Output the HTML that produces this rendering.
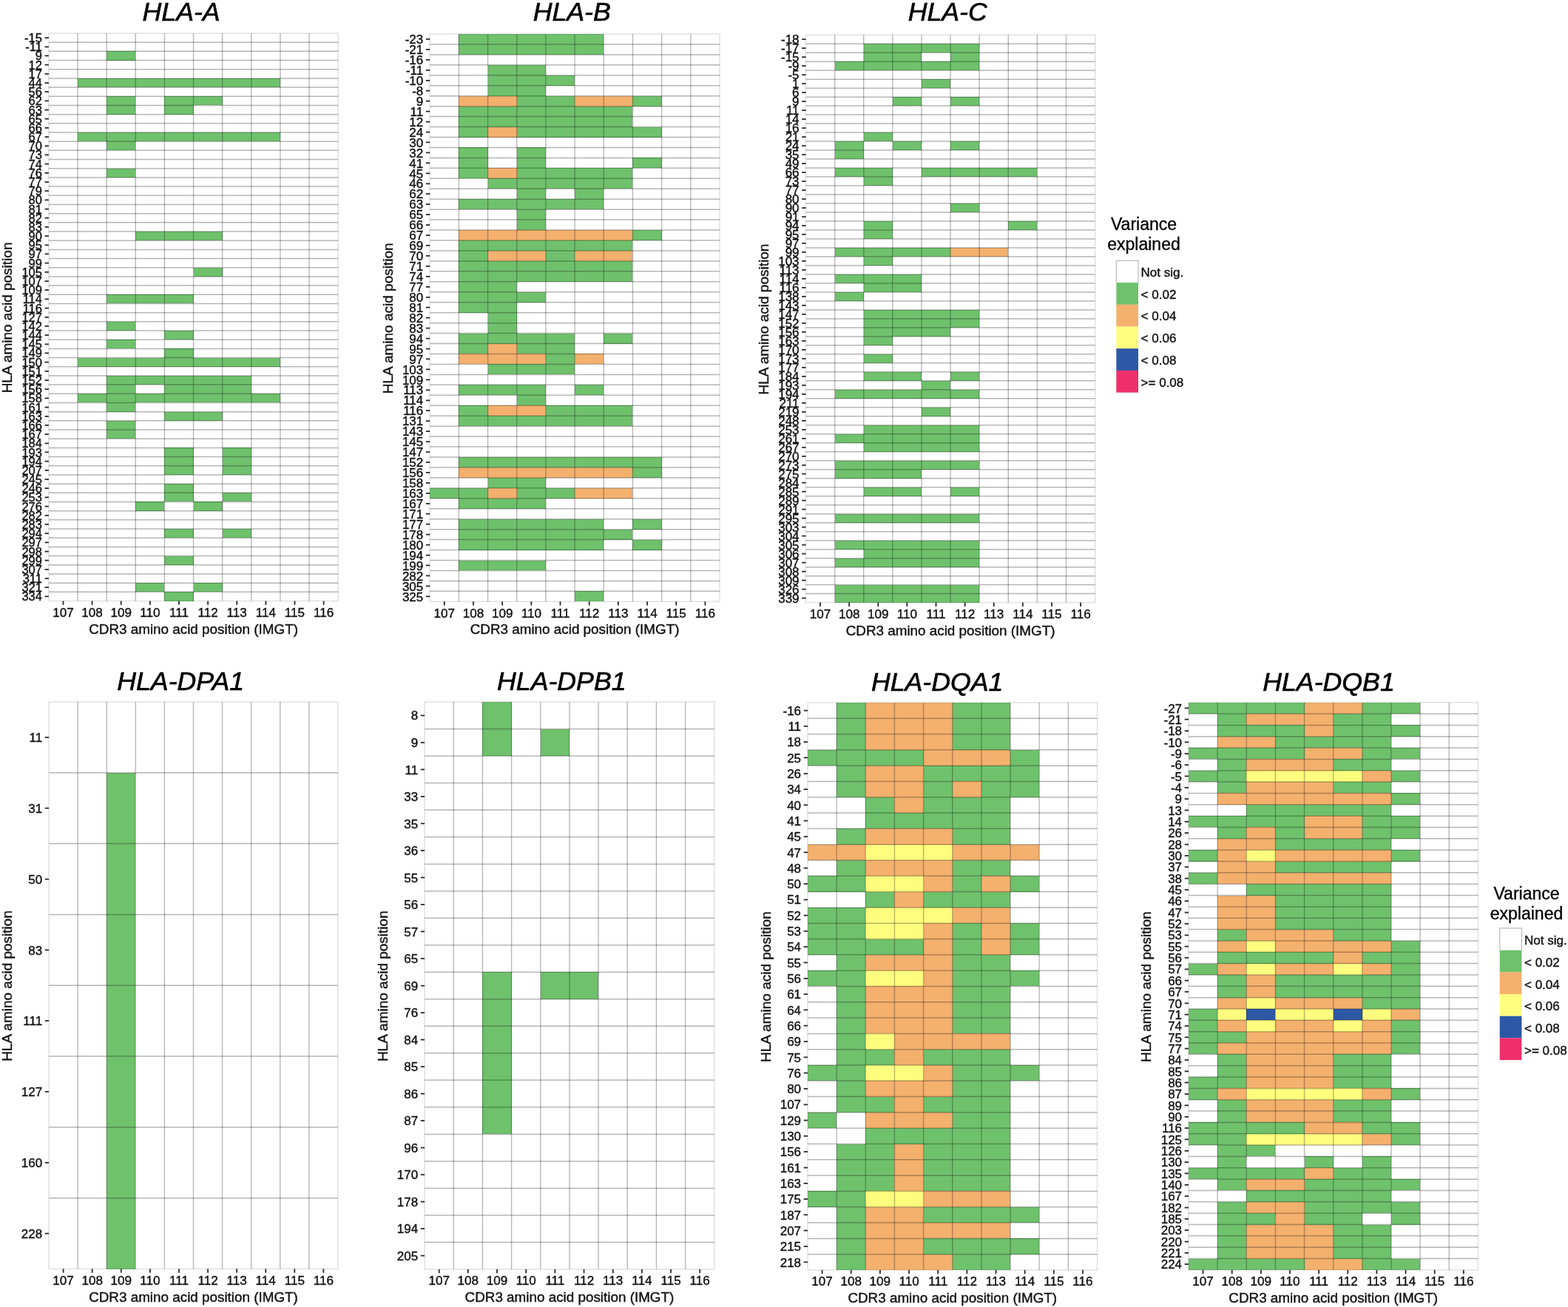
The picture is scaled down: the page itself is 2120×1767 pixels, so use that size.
<!DOCTYPE html>
<html lang="en"><head><meta charset="utf-8"><title>HLA amino acid position vs CDR3 position variance explained</title>
<style>
html,body{margin:0;padding:0;background:#fff;}
body{width:2120px;height:1767px;overflow:hidden;}
svg{display:block;}
text{white-space:pre;stroke:#111;stroke-width:.4px;}
text.t{stroke:#000;stroke-width:.65px;}
</style></head><body>
<svg xmlns="http://www.w3.org/2000/svg" width="2120" height="1767" viewBox="0 0 2120 1767" font-family='"Liberation Sans", "DejaVu Sans", sans-serif' fill="#111">
<rect width="2120" height="1767" fill="#fff"/>
<g>
<text x="245.1" y="28.3" class="t" font-size="35.7" font-style="italic" text-anchor="middle" fill="#000">HLA-A</text>
<g shape-rendering="crispEdges">
<rect x="144.16" y="69.37" width="39.13" height="12.18" fill="#6fc16c"/>
<rect x="105.03" y="105.91" width="273.91" height="12.18" fill="#6fc16c"/>
<rect x="144.16" y="130.28" width="39.13" height="12.18" fill="#6fc16c"/>
<rect x="222.42" y="130.28" width="78.26" height="12.18" fill="#6fc16c"/>
<rect x="144.16" y="142.46" width="39.13" height="12.18" fill="#6fc16c"/>
<rect x="222.42" y="142.46" width="39.13" height="12.18" fill="#6fc16c"/>
<rect x="105.03" y="179.01" width="273.91" height="12.18" fill="#6fc16c"/>
<rect x="144.16" y="191.19" width="39.13" height="12.18" fill="#6fc16c"/>
<rect x="144.16" y="227.74" width="39.13" height="12.18" fill="#6fc16c"/>
<rect x="183.29" y="313.02" width="117.39" height="12.18" fill="#6fc16c"/>
<rect x="261.55" y="361.75" width="39.13" height="12.18" fill="#6fc16c"/>
<rect x="144.16" y="398.29" width="117.39" height="12.18" fill="#6fc16c"/>
<rect x="144.16" y="434.84" width="39.13" height="12.18" fill="#6fc16c"/>
<rect x="222.42" y="447.02" width="39.13" height="12.18" fill="#6fc16c"/>
<rect x="144.16" y="459.21" width="39.13" height="12.18" fill="#6fc16c"/>
<rect x="222.42" y="471.39" width="39.13" height="12.18" fill="#6fc16c"/>
<rect x="105.03" y="483.57" width="273.91" height="12.18" fill="#6fc16c"/>
<rect x="144.16" y="507.94" width="195.65" height="12.18" fill="#6fc16c"/>
<rect x="144.16" y="520.12" width="39.13" height="12.18" fill="#6fc16c"/>
<rect x="222.42" y="520.12" width="117.39" height="12.18" fill="#6fc16c"/>
<rect x="105.03" y="532.3" width="273.91" height="12.18" fill="#6fc16c"/>
<rect x="144.16" y="544.48" width="39.13" height="12.18" fill="#6fc16c"/>
<rect x="222.42" y="556.67" width="78.26" height="12.18" fill="#6fc16c"/>
<rect x="144.16" y="568.85" width="39.13" height="12.18" fill="#6fc16c"/>
<rect x="144.16" y="581.03" width="39.13" height="12.18" fill="#6fc16c"/>
<rect x="222.42" y="605.4" width="39.13" height="12.18" fill="#6fc16c"/>
<rect x="300.68" y="605.4" width="39.13" height="12.18" fill="#6fc16c"/>
<rect x="222.42" y="617.58" width="39.13" height="12.18" fill="#6fc16c"/>
<rect x="300.68" y="617.58" width="39.13" height="12.18" fill="#6fc16c"/>
<rect x="222.42" y="629.76" width="39.13" height="12.18" fill="#6fc16c"/>
<rect x="300.68" y="629.76" width="39.13" height="12.18" fill="#6fc16c"/>
<rect x="222.42" y="654.13" width="39.13" height="12.18" fill="#6fc16c"/>
<rect x="222.42" y="666.31" width="39.13" height="12.18" fill="#6fc16c"/>
<rect x="300.68" y="666.31" width="39.13" height="12.18" fill="#6fc16c"/>
<rect x="183.29" y="678.49" width="39.13" height="12.18" fill="#6fc16c"/>
<rect x="261.55" y="678.49" width="39.13" height="12.18" fill="#6fc16c"/>
<rect x="222.42" y="715.04" width="39.13" height="12.18" fill="#6fc16c"/>
<rect x="300.68" y="715.04" width="39.13" height="12.18" fill="#6fc16c"/>
<rect x="222.42" y="751.59" width="39.13" height="12.18" fill="#6fc16c"/>
<rect x="183.29" y="788.13" width="39.13" height="12.18" fill="#6fc16c"/>
<rect x="261.55" y="788.13" width="39.13" height="12.18" fill="#6fc16c"/>
<rect x="222.42" y="800.32" width="39.13" height="12.18" fill="#6fc16c"/>
</g>
<path d="M65.9 57.18H457.2M65.9 69.37H457.2M65.9 81.55H457.2M65.9 93.73H457.2M65.9 105.91H457.2M65.9 118.1H457.2M65.9 130.28H457.2M65.9 142.46H457.2M65.9 154.64H457.2M65.9 166.83H457.2M65.9 179.01H457.2M65.9 191.19H457.2M65.9 203.37H457.2M65.9 215.56H457.2M65.9 227.74H457.2M65.9 239.92H457.2M65.9 252.1H457.2M65.9 264.29H457.2M65.9 276.47H457.2M65.9 288.65H457.2M65.9 300.83H457.2M65.9 313.02H457.2M65.9 325.2H457.2M65.9 337.38H457.2M65.9 349.56H457.2M65.9 361.75H457.2M65.9 373.93H457.2M65.9 386.11H457.2M65.9 398.29H457.2M65.9 410.48H457.2M65.9 422.66H457.2M65.9 434.84H457.2M65.9 447.02H457.2M65.9 459.21H457.2M65.9 471.39H457.2M65.9 483.57H457.2M65.9 495.75H457.2M65.9 507.94H457.2M65.9 520.12H457.2M65.9 532.3H457.2M65.9 544.48H457.2M65.9 556.67H457.2M65.9 568.85H457.2M65.9 581.03H457.2M65.9 593.21H457.2M65.9 605.4H457.2M65.9 617.58H457.2M65.9 629.76H457.2M65.9 641.94H457.2M65.9 654.13H457.2M65.9 666.31H457.2M65.9 678.49H457.2M65.9 690.67H457.2M65.9 702.86H457.2M65.9 715.04H457.2M65.9 727.22H457.2M65.9 739.4H457.2M65.9 751.59H457.2M65.9 763.77H457.2M65.9 775.95H457.2M65.9 788.13H457.2M65.9 800.32H457.2" stroke="rgba(20,20,20,0.31)" stroke-width="1.5" fill="none"/>
<path d="M105.03 45V812.5M144.16 45V812.5M183.29 45V812.5M222.42 45V812.5M261.55 45V812.5M300.68 45V812.5M339.81 45V812.5M378.94 45V812.5M418.07 45V812.5" stroke="rgba(20,20,20,0.30)" stroke-width="1.4" fill="none"/>
<rect x="65.9" y="45" width="391.3" height="767.5" fill="none" stroke="rgba(30,30,30,0.13)" stroke-width="1.6"/>
<path d="M60.6 51.09H65.9M60.6 63.27H65.9M60.6 75.46H65.9M60.6 87.64H65.9M60.6 99.82H65.9M60.6 112H65.9M60.6 124.19H65.9M60.6 136.37H65.9M60.6 148.55H65.9M60.6 160.73H65.9M60.6 172.92H65.9M60.6 185.1H65.9M60.6 197.28H65.9M60.6 209.46H65.9M60.6 221.65H65.9M60.6 233.83H65.9M60.6 246.01H65.9M60.6 258.19H65.9M60.6 270.38H65.9M60.6 282.56H65.9M60.6 294.74H65.9M60.6 306.92H65.9M60.6 319.11H65.9M60.6 331.29H65.9M60.6 343.47H65.9M60.6 355.65H65.9M60.6 367.84H65.9M60.6 380.02H65.9M60.6 392.2H65.9M60.6 404.38H65.9M60.6 416.57H65.9M60.6 428.75H65.9M60.6 440.93H65.9M60.6 453.12H65.9M60.6 465.3H65.9M60.6 477.48H65.9M60.6 489.66H65.9M60.6 501.85H65.9M60.6 514.03H65.9M60.6 526.21H65.9M60.6 538.39H65.9M60.6 550.58H65.9M60.6 562.76H65.9M60.6 574.94H65.9M60.6 587.12H65.9M60.6 599.31H65.9M60.6 611.49H65.9M60.6 623.67H65.9M60.6 635.85H65.9M60.6 648.04H65.9M60.6 660.22H65.9M60.6 672.4H65.9M60.6 684.58H65.9M60.6 696.77H65.9M60.6 708.95H65.9M60.6 721.13H65.9M60.6 733.31H65.9M60.6 745.5H65.9M60.6 757.68H65.9M60.6 769.86H65.9M60.6 782.04H65.9M60.6 794.23H65.9M60.6 806.41H65.9M85.47 812.5V817.8M124.59 812.5V817.8M163.72 812.5V817.8M202.85 812.5V817.8M241.98 812.5V817.8M281.12 812.5V817.8M320.25 812.5V817.8M359.38 812.5V817.8M398.5 812.5V817.8M437.63 812.5V817.8" stroke="#262626" stroke-width="1.75" fill="none"/>
<g font-size="16.5" text-anchor="end">
<text x="56.95" y="57.1">-15</text>
<text x="56.95" y="69.28">-11</text>
<text x="56.95" y="81.46">9</text>
<text x="56.95" y="93.65">12</text>
<text x="56.95" y="105.83">17</text>
<text x="56.95" y="118.01">44</text>
<text x="56.95" y="130.19">56</text>
<text x="56.95" y="142.38">62</text>
<text x="56.95" y="154.56">63</text>
<text x="56.95" y="166.74">65</text>
<text x="56.95" y="178.92">66</text>
<text x="56.95" y="191.11">67</text>
<text x="56.95" y="203.29">70</text>
<text x="56.95" y="215.47">73</text>
<text x="56.95" y="227.65">74</text>
<text x="56.95" y="239.84">76</text>
<text x="56.95" y="252.02">77</text>
<text x="56.95" y="264.2">79</text>
<text x="56.95" y="276.38">80</text>
<text x="56.95" y="288.57">81</text>
<text x="56.95" y="300.75">82</text>
<text x="56.95" y="312.93">83</text>
<text x="56.95" y="325.11">90</text>
<text x="56.95" y="337.3">95</text>
<text x="56.95" y="349.48">97</text>
<text x="56.95" y="361.66">99</text>
<text x="56.95" y="373.84">105</text>
<text x="56.95" y="386.03">107</text>
<text x="56.95" y="398.21">109</text>
<text x="56.95" y="410.39">114</text>
<text x="56.95" y="422.57">116</text>
<text x="56.95" y="434.76">127</text>
<text x="56.95" y="446.94">142</text>
<text x="56.95" y="459.12">144</text>
<text x="56.95" y="471.3">145</text>
<text x="56.95" y="483.49">149</text>
<text x="56.95" y="495.67">150</text>
<text x="56.95" y="507.85">151</text>
<text x="56.95" y="520.03">152</text>
<text x="56.95" y="532.22">156</text>
<text x="56.95" y="544.4">158</text>
<text x="56.95" y="556.58">161</text>
<text x="56.95" y="568.76">163</text>
<text x="56.95" y="580.95">166</text>
<text x="56.95" y="593.13">167</text>
<text x="56.95" y="605.31">184</text>
<text x="56.95" y="617.5">193</text>
<text x="56.95" y="629.68">194</text>
<text x="56.95" y="641.86">207</text>
<text x="56.95" y="654.04">245</text>
<text x="56.95" y="666.23">246</text>
<text x="56.95" y="678.41">253</text>
<text x="56.95" y="690.59">276</text>
<text x="56.95" y="702.77">282</text>
<text x="56.95" y="714.96">283</text>
<text x="56.95" y="727.14">294</text>
<text x="56.95" y="739.32">297</text>
<text x="56.95" y="751.5">298</text>
<text x="56.95" y="763.69">299</text>
<text x="56.95" y="775.87">307</text>
<text x="56.95" y="788.05">311</text>
<text x="56.95" y="800.23">321</text>
<text x="56.95" y="812.42">334</text>
</g>
<g font-size="17.1" text-anchor="middle">
<text x="85.47" y="833.9">107</text>
<text x="124.59" y="833.9">108</text>
<text x="163.72" y="833.9">109</text>
<text x="202.85" y="833.9">110</text>
<text x="241.98" y="833.9">111</text>
<text x="281.12" y="833.9">112</text>
<text x="320.25" y="833.9">113</text>
<text x="359.38" y="833.9">114</text>
<text x="398.5" y="833.9">115</text>
<text x="437.63" y="833.9">116</text>
</g>
<text x="261.55" y="856.5" font-size="18.85" text-anchor="middle">CDR3 amino acid position (IMGT)</text>
<text transform="translate(15.7 429.45) rotate(-90)" font-size="19" text-anchor="middle">HLA amino acid position</text>
</g>
<g>
<text x="773.2" y="28.3" class="t" font-size="35.7" font-style="italic" text-anchor="middle" fill="#000">HLA-B</text>
<g shape-rendering="crispEdges">
<rect x="620.38" y="46" width="195.9" height="13.95" fill="#6fc16c"/>
<rect x="620.38" y="59.95" width="195.9" height="13.95" fill="#6fc16c"/>
<rect x="659.56" y="87.85" width="78.36" height="13.95" fill="#6fc16c"/>
<rect x="659.56" y="101.8" width="117.54" height="13.95" fill="#6fc16c"/>
<rect x="659.56" y="115.75" width="78.36" height="13.95" fill="#6fc16c"/>
<rect x="620.38" y="129.71" width="78.36" height="13.95" fill="#f4b06d"/>
<rect x="698.74" y="129.71" width="78.36" height="13.95" fill="#6fc16c"/>
<rect x="777.1" y="129.71" width="78.36" height="13.95" fill="#f4b06d"/>
<rect x="855.46" y="129.71" width="39.18" height="13.95" fill="#6fc16c"/>
<rect x="620.38" y="143.66" width="235.08" height="13.95" fill="#6fc16c"/>
<rect x="620.38" y="157.61" width="235.08" height="13.95" fill="#6fc16c"/>
<rect x="620.38" y="171.56" width="39.18" height="13.95" fill="#6fc16c"/>
<rect x="659.56" y="171.56" width="39.18" height="13.95" fill="#f4b06d"/>
<rect x="698.74" y="171.56" width="195.9" height="13.95" fill="#6fc16c"/>
<rect x="620.38" y="199.46" width="39.18" height="13.95" fill="#6fc16c"/>
<rect x="698.74" y="199.46" width="39.18" height="13.95" fill="#6fc16c"/>
<rect x="620.38" y="213.41" width="39.18" height="13.95" fill="#6fc16c"/>
<rect x="698.74" y="213.41" width="39.18" height="13.95" fill="#6fc16c"/>
<rect x="855.46" y="213.41" width="39.18" height="13.95" fill="#6fc16c"/>
<rect x="620.38" y="227.36" width="39.18" height="13.95" fill="#6fc16c"/>
<rect x="659.56" y="227.36" width="39.18" height="13.95" fill="#f4b06d"/>
<rect x="698.74" y="227.36" width="156.72" height="13.95" fill="#6fc16c"/>
<rect x="659.56" y="241.31" width="195.9" height="13.95" fill="#6fc16c"/>
<rect x="698.74" y="255.26" width="39.18" height="13.95" fill="#6fc16c"/>
<rect x="777.1" y="255.26" width="39.18" height="13.95" fill="#6fc16c"/>
<rect x="620.38" y="269.21" width="195.9" height="13.95" fill="#6fc16c"/>
<rect x="698.74" y="283.17" width="39.18" height="13.95" fill="#6fc16c"/>
<rect x="698.74" y="297.12" width="39.18" height="13.95" fill="#6fc16c"/>
<rect x="620.38" y="311.07" width="235.08" height="13.95" fill="#f4b06d"/>
<rect x="855.46" y="311.07" width="39.18" height="13.95" fill="#6fc16c"/>
<rect x="620.38" y="325.02" width="235.08" height="13.95" fill="#6fc16c"/>
<rect x="620.38" y="338.97" width="39.18" height="13.95" fill="#6fc16c"/>
<rect x="659.56" y="338.97" width="78.36" height="13.95" fill="#f4b06d"/>
<rect x="737.92" y="338.97" width="39.18" height="13.95" fill="#6fc16c"/>
<rect x="777.1" y="338.97" width="78.36" height="13.95" fill="#f4b06d"/>
<rect x="620.38" y="352.92" width="235.08" height="13.95" fill="#6fc16c"/>
<rect x="620.38" y="366.87" width="235.08" height="13.95" fill="#6fc16c"/>
<rect x="620.38" y="380.82" width="78.36" height="13.95" fill="#6fc16c"/>
<rect x="620.38" y="394.77" width="117.54" height="13.95" fill="#6fc16c"/>
<rect x="620.38" y="408.72" width="78.36" height="13.95" fill="#6fc16c"/>
<rect x="659.56" y="422.67" width="39.18" height="13.95" fill="#6fc16c"/>
<rect x="659.56" y="436.63" width="39.18" height="13.95" fill="#6fc16c"/>
<rect x="620.38" y="450.58" width="156.72" height="13.95" fill="#6fc16c"/>
<rect x="816.28" y="450.58" width="39.18" height="13.95" fill="#6fc16c"/>
<rect x="620.38" y="464.53" width="39.18" height="13.95" fill="#6fc16c"/>
<rect x="659.56" y="464.53" width="39.18" height="13.95" fill="#f4b06d"/>
<rect x="698.74" y="464.53" width="78.36" height="13.95" fill="#6fc16c"/>
<rect x="620.38" y="478.48" width="117.54" height="13.95" fill="#f4b06d"/>
<rect x="737.92" y="478.48" width="39.18" height="13.95" fill="#6fc16c"/>
<rect x="777.1" y="478.48" width="39.18" height="13.95" fill="#f4b06d"/>
<rect x="659.56" y="492.43" width="117.54" height="13.95" fill="#6fc16c"/>
<rect x="620.38" y="520.33" width="117.54" height="13.95" fill="#6fc16c"/>
<rect x="777.1" y="520.33" width="39.18" height="13.95" fill="#6fc16c"/>
<rect x="698.74" y="534.28" width="39.18" height="13.95" fill="#6fc16c"/>
<rect x="620.38" y="548.23" width="39.18" height="13.95" fill="#6fc16c"/>
<rect x="659.56" y="548.23" width="78.36" height="13.95" fill="#f4b06d"/>
<rect x="737.92" y="548.23" width="117.54" height="13.95" fill="#6fc16c"/>
<rect x="620.38" y="562.18" width="235.08" height="13.95" fill="#6fc16c"/>
<rect x="620.38" y="617.99" width="274.26" height="13.95" fill="#6fc16c"/>
<rect x="620.38" y="631.94" width="235.08" height="13.95" fill="#f4b06d"/>
<rect x="855.46" y="631.94" width="39.18" height="13.95" fill="#6fc16c"/>
<rect x="659.56" y="645.89" width="78.36" height="13.95" fill="#6fc16c"/>
<rect x="581.2" y="659.84" width="78.36" height="13.95" fill="#6fc16c"/>
<rect x="659.56" y="659.84" width="39.18" height="13.95" fill="#f4b06d"/>
<rect x="698.74" y="659.84" width="78.36" height="13.95" fill="#6fc16c"/>
<rect x="777.1" y="659.84" width="78.36" height="13.95" fill="#f4b06d"/>
<rect x="620.38" y="673.79" width="117.54" height="13.95" fill="#6fc16c"/>
<rect x="620.38" y="701.69" width="195.9" height="13.95" fill="#6fc16c"/>
<rect x="855.46" y="701.69" width="39.18" height="13.95" fill="#6fc16c"/>
<rect x="620.38" y="715.64" width="235.08" height="13.95" fill="#6fc16c"/>
<rect x="620.38" y="729.59" width="195.9" height="13.95" fill="#6fc16c"/>
<rect x="855.46" y="729.59" width="39.18" height="13.95" fill="#6fc16c"/>
<rect x="620.38" y="757.5" width="117.54" height="13.95" fill="#6fc16c"/>
<rect x="777.1" y="799.35" width="39.18" height="13.95" fill="#6fc16c"/>
</g>
<path d="M581.2 59.95H973M581.2 73.9H973M581.2 87.85H973M581.2 101.8H973M581.2 115.75H973M581.2 129.71H973M581.2 143.66H973M581.2 157.61H973M581.2 171.56H973M581.2 185.51H973M581.2 199.46H973M581.2 213.41H973M581.2 227.36H973M581.2 241.31H973M581.2 255.26H973M581.2 269.21H973M581.2 283.17H973M581.2 297.12H973M581.2 311.07H973M581.2 325.02H973M581.2 338.97H973M581.2 352.92H973M581.2 366.87H973M581.2 380.82H973M581.2 394.77H973M581.2 408.72H973M581.2 422.67H973M581.2 436.63H973M581.2 450.58H973M581.2 464.53H973M581.2 478.48H973M581.2 492.43H973M581.2 506.38H973M581.2 520.33H973M581.2 534.28H973M581.2 548.23H973M581.2 562.18H973M581.2 576.13H973M581.2 590.09H973M581.2 604.04H973M581.2 617.99H973M581.2 631.94H973M581.2 645.89H973M581.2 659.84H973M581.2 673.79H973M581.2 687.74H973M581.2 701.69H973M581.2 715.64H973M581.2 729.59H973M581.2 743.55H973M581.2 757.5H973M581.2 771.45H973M581.2 785.4H973M581.2 799.35H973" stroke="rgba(20,20,20,0.31)" stroke-width="1.5" fill="none"/>
<path d="M620.38 46V813.3M659.56 46V813.3M698.74 46V813.3M737.92 46V813.3M777.1 46V813.3M816.28 46V813.3M855.46 46V813.3M894.64 46V813.3M933.82 46V813.3" stroke="rgba(20,20,20,0.30)" stroke-width="1.4" fill="none"/>
<rect x="581.2" y="46" width="391.8" height="767.3" fill="none" stroke="rgba(30,30,30,0.13)" stroke-width="1.6"/>
<path d="M575.9 52.98H581.2M575.9 66.93H581.2M575.9 80.88H581.2M575.9 94.83H581.2M575.9 108.78H581.2M575.9 122.73H581.2M575.9 136.68H581.2M575.9 150.63H581.2M575.9 164.58H581.2M575.9 178.53H581.2M575.9 192.48H581.2M575.9 206.44H581.2M575.9 220.39H581.2M575.9 234.34H581.2M575.9 248.29H581.2M575.9 262.24H581.2M575.9 276.19H581.2M575.9 290.14H581.2M575.9 304.09H581.2M575.9 318.04H581.2M575.9 331.99H581.2M575.9 345.94H581.2M575.9 359.9H581.2M575.9 373.85H581.2M575.9 387.8H581.2M575.9 401.75H581.2M575.9 415.7H581.2M575.9 429.65H581.2M575.9 443.6H581.2M575.9 457.55H581.2M575.9 471.5H581.2M575.9 485.45H581.2M575.9 499.4H581.2M575.9 513.36H581.2M575.9 527.31H581.2M575.9 541.26H581.2M575.9 555.21H581.2M575.9 569.16H581.2M575.9 583.11H581.2M575.9 597.06H581.2M575.9 611.01H581.2M575.9 624.96H581.2M575.9 638.91H581.2M575.9 652.86H581.2M575.9 666.82H581.2M575.9 680.77H581.2M575.9 694.72H581.2M575.9 708.67H581.2M575.9 722.62H581.2M575.9 736.57H581.2M575.9 750.52H581.2M575.9 764.47H581.2M575.9 778.42H581.2M575.9 792.37H581.2M575.9 806.32H581.2M600.79 813.3V818.6M639.97 813.3V818.6M679.15 813.3V818.6M718.33 813.3V818.6M757.51 813.3V818.6M796.69 813.3V818.6M835.87 813.3V818.6M875.05 813.3V818.6M914.23 813.3V818.6M953.41 813.3V818.6" stroke="#262626" stroke-width="1.75" fill="none"/>
<g font-size="17.0" text-anchor="end">
<text x="572.25" y="59.16">-23</text>
<text x="572.25" y="73.11">-21</text>
<text x="572.25" y="87.06">-16</text>
<text x="572.25" y="101.01">-11</text>
<text x="572.25" y="114.97">-10</text>
<text x="572.25" y="128.92">-8</text>
<text x="572.25" y="142.87">9</text>
<text x="572.25" y="156.82">11</text>
<text x="572.25" y="170.77">12</text>
<text x="572.25" y="184.72">24</text>
<text x="572.25" y="198.67">30</text>
<text x="572.25" y="212.62">32</text>
<text x="572.25" y="226.57">41</text>
<text x="572.25" y="240.52">45</text>
<text x="572.25" y="254.47">46</text>
<text x="572.25" y="268.43">62</text>
<text x="572.25" y="282.38">63</text>
<text x="572.25" y="296.33">65</text>
<text x="572.25" y="310.28">66</text>
<text x="572.25" y="324.23">67</text>
<text x="572.25" y="338.18">69</text>
<text x="572.25" y="352.13">70</text>
<text x="572.25" y="366.08">71</text>
<text x="572.25" y="380.03">74</text>
<text x="572.25" y="393.98">77</text>
<text x="572.25" y="407.93">80</text>
<text x="572.25" y="421.89">81</text>
<text x="572.25" y="435.84">82</text>
<text x="572.25" y="449.79">83</text>
<text x="572.25" y="463.74">94</text>
<text x="572.25" y="477.69">95</text>
<text x="572.25" y="491.64">97</text>
<text x="572.25" y="505.59">103</text>
<text x="572.25" y="519.54">109</text>
<text x="572.25" y="533.49">113</text>
<text x="572.25" y="547.44">114</text>
<text x="572.25" y="561.39">116</text>
<text x="572.25" y="575.35">131</text>
<text x="572.25" y="589.3">143</text>
<text x="572.25" y="603.25">145</text>
<text x="572.25" y="617.2">147</text>
<text x="572.25" y="631.15">152</text>
<text x="572.25" y="645.1">156</text>
<text x="572.25" y="659.05">158</text>
<text x="572.25" y="673">163</text>
<text x="572.25" y="686.95">167</text>
<text x="572.25" y="700.9">171</text>
<text x="572.25" y="714.85">177</text>
<text x="572.25" y="728.81">178</text>
<text x="572.25" y="742.76">180</text>
<text x="572.25" y="756.71">194</text>
<text x="572.25" y="770.66">199</text>
<text x="572.25" y="784.61">282</text>
<text x="572.25" y="798.56">305</text>
<text x="572.25" y="812.51">325</text>
</g>
<g font-size="17.1" text-anchor="middle">
<text x="600.79" y="834.7">107</text>
<text x="639.97" y="834.7">108</text>
<text x="679.15" y="834.7">109</text>
<text x="718.33" y="834.7">110</text>
<text x="757.51" y="834.7">111</text>
<text x="796.69" y="834.7">112</text>
<text x="835.87" y="834.7">113</text>
<text x="875.05" y="834.7">114</text>
<text x="914.23" y="834.7">115</text>
<text x="953.41" y="834.7">116</text>
</g>
<text x="777.1" y="857.3" font-size="18.85" text-anchor="middle">CDR3 amino acid position (IMGT)</text>
<text transform="translate(530.5 430.35) rotate(-90)" font-size="19" text-anchor="middle">HLA amino acid position</text>
</g>
<g>
<text x="1281.2" y="28.3" class="t" font-size="35.7" font-style="italic" text-anchor="middle" fill="#000">HLA-C</text>
<g shape-rendering="crispEdges">
<rect x="1167.72" y="59.19" width="156.44" height="11.99" fill="#6fc16c"/>
<rect x="1167.72" y="71.18" width="78.22" height="11.99" fill="#6fc16c"/>
<rect x="1285.05" y="71.18" width="39.11" height="11.99" fill="#6fc16c"/>
<rect x="1128.61" y="83.17" width="195.55" height="11.99" fill="#6fc16c"/>
<rect x="1245.94" y="107.15" width="39.11" height="11.99" fill="#6fc16c"/>
<rect x="1206.83" y="131.13" width="39.11" height="11.99" fill="#6fc16c"/>
<rect x="1285.05" y="131.13" width="39.11" height="11.99" fill="#6fc16c"/>
<rect x="1167.72" y="179.1" width="39.11" height="11.99" fill="#6fc16c"/>
<rect x="1128.61" y="191.09" width="39.11" height="11.99" fill="#6fc16c"/>
<rect x="1206.83" y="191.09" width="39.11" height="11.99" fill="#6fc16c"/>
<rect x="1285.05" y="191.09" width="39.11" height="11.99" fill="#6fc16c"/>
<rect x="1128.61" y="203.08" width="39.11" height="11.99" fill="#6fc16c"/>
<rect x="1128.61" y="227.06" width="78.22" height="11.99" fill="#6fc16c"/>
<rect x="1245.94" y="227.06" width="156.44" height="11.99" fill="#6fc16c"/>
<rect x="1167.72" y="239.05" width="39.11" height="11.99" fill="#6fc16c"/>
<rect x="1285.05" y="275.02" width="39.11" height="11.99" fill="#6fc16c"/>
<rect x="1167.72" y="299" width="39.11" height="11.99" fill="#6fc16c"/>
<rect x="1363.27" y="299" width="39.11" height="11.99" fill="#6fc16c"/>
<rect x="1167.72" y="310.99" width="39.11" height="11.99" fill="#6fc16c"/>
<rect x="1128.61" y="334.97" width="156.44" height="11.99" fill="#6fc16c"/>
<rect x="1285.05" y="334.97" width="78.22" height="11.99" fill="#f4b06d"/>
<rect x="1167.72" y="346.97" width="39.11" height="11.99" fill="#6fc16c"/>
<rect x="1128.61" y="370.95" width="117.33" height="11.99" fill="#6fc16c"/>
<rect x="1167.72" y="382.94" width="78.22" height="11.99" fill="#6fc16c"/>
<rect x="1128.61" y="394.93" width="39.11" height="11.99" fill="#6fc16c"/>
<rect x="1167.72" y="418.91" width="156.44" height="11.99" fill="#6fc16c"/>
<rect x="1167.72" y="430.9" width="156.44" height="11.99" fill="#6fc16c"/>
<rect x="1167.72" y="442.89" width="117.33" height="11.99" fill="#6fc16c"/>
<rect x="1167.72" y="454.88" width="39.11" height="11.99" fill="#6fc16c"/>
<rect x="1167.72" y="478.86" width="39.11" height="11.99" fill="#6fc16c"/>
<rect x="1167.72" y="502.84" width="78.22" height="11.99" fill="#6fc16c"/>
<rect x="1285.05" y="502.84" width="39.11" height="11.99" fill="#6fc16c"/>
<rect x="1245.94" y="514.83" width="39.11" height="11.99" fill="#6fc16c"/>
<rect x="1128.61" y="526.83" width="195.55" height="11.99" fill="#6fc16c"/>
<rect x="1245.94" y="550.81" width="39.11" height="11.99" fill="#6fc16c"/>
<rect x="1167.72" y="574.79" width="156.44" height="11.99" fill="#6fc16c"/>
<rect x="1128.61" y="586.78" width="195.55" height="11.99" fill="#6fc16c"/>
<rect x="1167.72" y="598.77" width="156.44" height="11.99" fill="#6fc16c"/>
<rect x="1128.61" y="622.75" width="195.55" height="11.99" fill="#6fc16c"/>
<rect x="1128.61" y="634.74" width="117.33" height="11.99" fill="#6fc16c"/>
<rect x="1167.72" y="658.72" width="78.22" height="11.99" fill="#6fc16c"/>
<rect x="1285.05" y="658.72" width="39.11" height="11.99" fill="#6fc16c"/>
<rect x="1128.61" y="694.69" width="195.55" height="11.99" fill="#6fc16c"/>
<rect x="1128.61" y="730.67" width="195.55" height="11.99" fill="#6fc16c"/>
<rect x="1167.72" y="742.66" width="156.44" height="11.99" fill="#6fc16c"/>
<rect x="1128.61" y="754.65" width="195.55" height="11.99" fill="#6fc16c"/>
<rect x="1128.61" y="790.62" width="195.55" height="11.99" fill="#6fc16c"/>
<rect x="1128.61" y="802.61" width="195.55" height="11.99" fill="#6fc16c"/>
</g>
<path d="M1089.5 59.19H1480.6M1089.5 71.18H1480.6M1089.5 83.17H1480.6M1089.5 95.16H1480.6M1089.5 107.15H1480.6M1089.5 119.14H1480.6M1089.5 131.13H1480.6M1089.5 143.12H1480.6M1089.5 155.12H1480.6M1089.5 167.11H1480.6M1089.5 179.1H1480.6M1089.5 191.09H1480.6M1089.5 203.08H1480.6M1089.5 215.07H1480.6M1089.5 227.06H1480.6M1089.5 239.05H1480.6M1089.5 251.04H1480.6M1089.5 263.03H1480.6M1089.5 275.02H1480.6M1089.5 287.01H1480.6M1089.5 299H1480.6M1089.5 310.99H1480.6M1089.5 322.98H1480.6M1089.5 334.97H1480.6M1089.5 346.97H1480.6M1089.5 358.96H1480.6M1089.5 370.95H1480.6M1089.5 382.94H1480.6M1089.5 394.93H1480.6M1089.5 406.92H1480.6M1089.5 418.91H1480.6M1089.5 430.9H1480.6M1089.5 442.89H1480.6M1089.5 454.88H1480.6M1089.5 466.87H1480.6M1089.5 478.86H1480.6M1089.5 490.85H1480.6M1089.5 502.84H1480.6M1089.5 514.83H1480.6M1089.5 526.83H1480.6M1089.5 538.82H1480.6M1089.5 550.81H1480.6M1089.5 562.8H1480.6M1089.5 574.79H1480.6M1089.5 586.78H1480.6M1089.5 598.77H1480.6M1089.5 610.76H1480.6M1089.5 622.75H1480.6M1089.5 634.74H1480.6M1089.5 646.73H1480.6M1089.5 658.72H1480.6M1089.5 670.71H1480.6M1089.5 682.7H1480.6M1089.5 694.69H1480.6M1089.5 706.68H1480.6M1089.5 718.68H1480.6M1089.5 730.67H1480.6M1089.5 742.66H1480.6M1089.5 754.65H1480.6M1089.5 766.64H1480.6M1089.5 778.63H1480.6M1089.5 790.62H1480.6M1089.5 802.61H1480.6" stroke="rgba(20,20,20,0.31)" stroke-width="1.5" fill="none"/>
<path d="M1128.61 47.2V814.6M1167.72 47.2V814.6M1206.83 47.2V814.6M1245.94 47.2V814.6M1285.05 47.2V814.6M1324.16 47.2V814.6M1363.27 47.2V814.6M1402.38 47.2V814.6M1441.49 47.2V814.6" stroke="rgba(20,20,20,0.30)" stroke-width="1.4" fill="none"/>
<rect x="1089.5" y="47.2" width="391.1" height="767.4" fill="none" stroke="rgba(30,30,30,0.13)" stroke-width="1.6"/>
<path d="M1084.2 53.2H1089.5M1084.2 65.19H1089.5M1084.2 77.18H1089.5M1084.2 89.17H1089.5M1084.2 101.16H1089.5M1084.2 113.15H1089.5M1084.2 125.14H1089.5M1084.2 137.13H1089.5M1084.2 149.12H1089.5M1084.2 161.11H1089.5M1084.2 173.1H1089.5M1084.2 185.09H1089.5M1084.2 197.08H1089.5M1084.2 209.07H1089.5M1084.2 221.06H1089.5M1084.2 233.05H1089.5M1084.2 245.05H1089.5M1084.2 257.04H1089.5M1084.2 269.03H1089.5M1084.2 281.02H1089.5M1084.2 293.01H1089.5M1084.2 305H1089.5M1084.2 316.99H1089.5M1084.2 328.98H1089.5M1084.2 340.97H1089.5M1084.2 352.96H1089.5M1084.2 364.95H1089.5M1084.2 376.94H1089.5M1084.2 388.93H1089.5M1084.2 400.92H1089.5M1084.2 412.91H1089.5M1084.2 424.9H1089.5M1084.2 436.9H1089.5M1084.2 448.89H1089.5M1084.2 460.88H1089.5M1084.2 472.87H1089.5M1084.2 484.86H1089.5M1084.2 496.85H1089.5M1084.2 508.84H1089.5M1084.2 520.83H1089.5M1084.2 532.82H1089.5M1084.2 544.81H1089.5M1084.2 556.8H1089.5M1084.2 568.79H1089.5M1084.2 580.78H1089.5M1084.2 592.77H1089.5M1084.2 604.76H1089.5M1084.2 616.75H1089.5M1084.2 628.75H1089.5M1084.2 640.74H1089.5M1084.2 652.73H1089.5M1084.2 664.72H1089.5M1084.2 676.71H1089.5M1084.2 688.7H1089.5M1084.2 700.69H1089.5M1084.2 712.68H1089.5M1084.2 724.67H1089.5M1084.2 736.66H1089.5M1084.2 748.65H1089.5M1084.2 760.64H1089.5M1084.2 772.63H1089.5M1084.2 784.62H1089.5M1084.2 796.61H1089.5M1084.2 808.6H1089.5M1109.06 814.6V819.9M1148.16 814.6V819.9M1187.28 814.6V819.9M1226.38 814.6V819.9M1265.49 814.6V819.9M1304.61 814.6V819.9M1343.71 814.6V819.9M1382.82 814.6V819.9M1421.93 814.6V819.9M1461.04 814.6V819.9" stroke="#262626" stroke-width="1.75" fill="none"/>
<g font-size="17.0" text-anchor="end">
<text x="1080.55" y="59.38">-18</text>
<text x="1080.55" y="71.37">-17</text>
<text x="1080.55" y="83.36">-15</text>
<text x="1080.55" y="95.35">-9</text>
<text x="1080.55" y="107.34">-5</text>
<text x="1080.55" y="119.33">1</text>
<text x="1080.55" y="131.33">6</text>
<text x="1080.55" y="143.32">9</text>
<text x="1080.55" y="155.31">11</text>
<text x="1080.55" y="167.3">14</text>
<text x="1080.55" y="179.29">16</text>
<text x="1080.55" y="191.28">21</text>
<text x="1080.55" y="203.27">24</text>
<text x="1080.55" y="215.26">35</text>
<text x="1080.55" y="227.25">49</text>
<text x="1080.55" y="239.24">66</text>
<text x="1080.55" y="251.23">73</text>
<text x="1080.55" y="263.22">77</text>
<text x="1080.55" y="275.21">80</text>
<text x="1080.55" y="287.2">90</text>
<text x="1080.55" y="299.19">91</text>
<text x="1080.55" y="311.18">94</text>
<text x="1080.55" y="323.18">95</text>
<text x="1080.55" y="335.17">97</text>
<text x="1080.55" y="347.16">99</text>
<text x="1080.55" y="359.15">103</text>
<text x="1080.55" y="371.14">113</text>
<text x="1080.55" y="383.13">114</text>
<text x="1080.55" y="395.12">116</text>
<text x="1080.55" y="407.11">138</text>
<text x="1080.55" y="419.1">143</text>
<text x="1080.55" y="431.09">147</text>
<text x="1080.55" y="443.08">152</text>
<text x="1080.55" y="455.07">156</text>
<text x="1080.55" y="467.06">163</text>
<text x="1080.55" y="479.05">170</text>
<text x="1080.55" y="491.04">173</text>
<text x="1080.55" y="503.03">177</text>
<text x="1080.55" y="515.03">184</text>
<text x="1080.55" y="527.02">193</text>
<text x="1080.55" y="539.01">194</text>
<text x="1080.55" y="551">211</text>
<text x="1080.55" y="562.99">219</text>
<text x="1080.55" y="574.98">248</text>
<text x="1080.55" y="586.97">253</text>
<text x="1080.55" y="598.96">261</text>
<text x="1080.55" y="610.95">267</text>
<text x="1080.55" y="622.94">270</text>
<text x="1080.55" y="634.93">273</text>
<text x="1080.55" y="646.92">275</text>
<text x="1080.55" y="658.91">284</text>
<text x="1080.55" y="670.9">285</text>
<text x="1080.55" y="682.89">289</text>
<text x="1080.55" y="694.88">291</text>
<text x="1080.55" y="706.88">295</text>
<text x="1080.55" y="718.87">303</text>
<text x="1080.55" y="730.86">304</text>
<text x="1080.55" y="742.85">305</text>
<text x="1080.55" y="754.84">306</text>
<text x="1080.55" y="766.83">307</text>
<text x="1080.55" y="778.82">308</text>
<text x="1080.55" y="790.81">309</text>
<text x="1080.55" y="802.8">326</text>
<text x="1080.55" y="814.79">339</text>
</g>
<g font-size="17.1" text-anchor="middle">
<text x="1109.06" y="836">107</text>
<text x="1148.16" y="836">108</text>
<text x="1187.28" y="836">109</text>
<text x="1226.38" y="836">110</text>
<text x="1265.49" y="836">111</text>
<text x="1304.61" y="836">112</text>
<text x="1343.71" y="836">113</text>
<text x="1382.82" y="836">114</text>
<text x="1421.93" y="836">115</text>
<text x="1461.04" y="836">116</text>
</g>
<text x="1285.05" y="858.6" font-size="18.85" text-anchor="middle">CDR3 amino acid position (IMGT)</text>
<text transform="translate(1039.1 431.6) rotate(-90)" font-size="19" text-anchor="middle">HLA amino acid position</text>
</g>
<g>
<text x="244.2" y="933.3" class="t" font-size="35.7" font-style="italic" text-anchor="middle" fill="#000">HLA-DPA1</text>
<g shape-rendering="crispEdges">
<rect x="144.26" y="1044.81" width="39.08" height="95.81" fill="#6fc16c"/>
<rect x="144.26" y="1140.62" width="39.08" height="95.81" fill="#6fc16c"/>
<rect x="144.26" y="1236.44" width="39.08" height="95.81" fill="#6fc16c"/>
<rect x="144.26" y="1332.25" width="39.08" height="95.81" fill="#6fc16c"/>
<rect x="144.26" y="1428.06" width="39.08" height="95.81" fill="#6fc16c"/>
<rect x="144.26" y="1523.88" width="39.08" height="95.81" fill="#6fc16c"/>
<rect x="144.26" y="1619.69" width="39.08" height="95.81" fill="#6fc16c"/>
</g>
<path d="M66.1 1044.81H456.9M66.1 1140.62H456.9M66.1 1236.44H456.9M66.1 1332.25H456.9M66.1 1428.06H456.9M66.1 1523.88H456.9M66.1 1619.69H456.9" stroke="rgba(20,20,20,0.31)" stroke-width="1.5" fill="none"/>
<path d="M105.18 949V1715.5M144.26 949V1715.5M183.34 949V1715.5M222.42 949V1715.5M261.5 949V1715.5M300.58 949V1715.5M339.66 949V1715.5M378.74 949V1715.5M417.82 949V1715.5" stroke="rgba(20,20,20,0.30)" stroke-width="1.4" fill="none"/>
<rect x="66.1" y="949" width="390.8" height="766.5" fill="none" stroke="rgba(30,30,30,0.13)" stroke-width="1.6"/>
<path d="M60.8 996.91H66.1M60.8 1092.72H66.1M60.8 1188.53H66.1M60.8 1284.34H66.1M60.8 1380.16H66.1M60.8 1475.97H66.1M60.8 1571.78H66.1M60.8 1667.59H66.1M85.64 1715.5V1720.8M124.72 1715.5V1720.8M163.8 1715.5V1720.8M202.88 1715.5V1720.8M241.96 1715.5V1720.8M281.04 1715.5V1720.8M320.12 1715.5V1720.8M359.2 1715.5V1720.8M398.28 1715.5V1720.8M437.36 1715.5V1720.8" stroke="#262626" stroke-width="1.75" fill="none"/>
<g font-size="17.0" text-anchor="end">
<text x="57.15" y="1003.09">11</text>
<text x="57.15" y="1098.9">31</text>
<text x="57.15" y="1194.72">50</text>
<text x="57.15" y="1290.53">83</text>
<text x="57.15" y="1386.34">111</text>
<text x="57.15" y="1482.15">127</text>
<text x="57.15" y="1577.97">160</text>
<text x="57.15" y="1673.78">228</text>
</g>
<g font-size="17.1" text-anchor="middle">
<text x="85.64" y="1736.9">107</text>
<text x="124.72" y="1736.9">108</text>
<text x="163.8" y="1736.9">109</text>
<text x="202.88" y="1736.9">110</text>
<text x="241.96" y="1736.9">111</text>
<text x="281.04" y="1736.9">112</text>
<text x="320.12" y="1736.9">113</text>
<text x="359.2" y="1736.9">114</text>
<text x="398.28" y="1736.9">115</text>
<text x="437.36" y="1736.9">116</text>
</g>
<text x="261.5" y="1759.5" font-size="18.85" text-anchor="middle">CDR3 amino acid position (IMGT)</text>
<text transform="translate(15.7 1332.95) rotate(-90)" font-size="19" text-anchor="middle">HLA amino acid position</text>
</g>
<g>
<text x="759.3" y="933.3" class="t" font-size="35.7" font-style="italic" text-anchor="middle" fill="#000">HLA-DPB1</text>
<g shape-rendering="crispEdges">
<rect x="652.44" y="949" width="39.17" height="36.52" fill="#6fc16c"/>
<rect x="652.44" y="985.52" width="39.17" height="36.52" fill="#6fc16c"/>
<rect x="730.78" y="985.52" width="39.17" height="36.52" fill="#6fc16c"/>
<rect x="652.44" y="1314.24" width="39.17" height="36.52" fill="#6fc16c"/>
<rect x="730.78" y="1314.24" width="78.34" height="36.52" fill="#6fc16c"/>
<rect x="652.44" y="1350.76" width="39.17" height="36.52" fill="#6fc16c"/>
<rect x="652.44" y="1387.29" width="39.17" height="36.52" fill="#6fc16c"/>
<rect x="652.44" y="1423.81" width="39.17" height="36.52" fill="#6fc16c"/>
<rect x="652.44" y="1460.33" width="39.17" height="36.52" fill="#6fc16c"/>
<rect x="652.44" y="1496.86" width="39.17" height="36.52" fill="#6fc16c"/>
</g>
<path d="M574.1 985.52H965.8M574.1 1022.05H965.8M574.1 1058.57H965.8M574.1 1095.1H965.8M574.1 1131.62H965.8M574.1 1168.14H965.8M574.1 1204.67H965.8M574.1 1241.19H965.8M574.1 1277.71H965.8M574.1 1314.24H965.8M574.1 1350.76H965.8M574.1 1387.29H965.8M574.1 1423.81H965.8M574.1 1460.33H965.8M574.1 1496.86H965.8M574.1 1533.38H965.8M574.1 1569.9H965.8M574.1 1606.43H965.8M574.1 1642.95H965.8M574.1 1679.48H965.8" stroke="rgba(20,20,20,0.31)" stroke-width="1.5" fill="none"/>
<path d="M613.27 949V1716M652.44 949V1716M691.61 949V1716M730.78 949V1716M769.95 949V1716M809.12 949V1716M848.29 949V1716M887.46 949V1716M926.63 949V1716" stroke="rgba(20,20,20,0.30)" stroke-width="1.4" fill="none"/>
<rect x="574.1" y="949" width="391.7" height="767" fill="none" stroke="rgba(30,30,30,0.13)" stroke-width="1.6"/>
<path d="M568.8 967.26H574.1M568.8 1003.79H574.1M568.8 1040.31H574.1M568.8 1076.83H574.1M568.8 1113.36H574.1M568.8 1149.88H574.1M568.8 1186.4H574.1M568.8 1222.93H574.1M568.8 1259.45H574.1M568.8 1295.98H574.1M568.8 1332.5H574.1M568.8 1369.02H574.1M568.8 1405.55H574.1M568.8 1442.07H574.1M568.8 1478.6H574.1M568.8 1515.12H574.1M568.8 1551.64H574.1M568.8 1588.17H574.1M568.8 1624.69H574.1M568.8 1661.21H574.1M568.8 1697.74H574.1M593.69 1716V1721.3M632.86 1716V1721.3M672.02 1716V1721.3M711.19 1716V1721.3M750.37 1716V1721.3M789.53 1716V1721.3M828.7 1716V1721.3M867.88 1716V1721.3M907.04 1716V1721.3M946.21 1716V1721.3" stroke="#262626" stroke-width="1.75" fill="none"/>
<g font-size="17.0" text-anchor="end">
<text x="565.15" y="973.45">8</text>
<text x="565.15" y="1009.97">9</text>
<text x="565.15" y="1046.5">11</text>
<text x="565.15" y="1083.02">33</text>
<text x="565.15" y="1119.54">35</text>
<text x="565.15" y="1156.07">36</text>
<text x="565.15" y="1192.59">55</text>
<text x="565.15" y="1229.11">56</text>
<text x="565.15" y="1265.64">57</text>
<text x="565.15" y="1302.16">65</text>
<text x="565.15" y="1338.69">69</text>
<text x="565.15" y="1375.21">76</text>
<text x="565.15" y="1411.73">84</text>
<text x="565.15" y="1448.26">85</text>
<text x="565.15" y="1484.78">86</text>
<text x="565.15" y="1521.31">87</text>
<text x="565.15" y="1557.83">96</text>
<text x="565.15" y="1594.35">170</text>
<text x="565.15" y="1630.88">178</text>
<text x="565.15" y="1667.4">194</text>
<text x="565.15" y="1703.92">205</text>
</g>
<g font-size="17.1" text-anchor="middle">
<text x="593.69" y="1737.4">107</text>
<text x="632.86" y="1737.4">108</text>
<text x="672.02" y="1737.4">109</text>
<text x="711.19" y="1737.4">110</text>
<text x="750.37" y="1737.4">111</text>
<text x="789.53" y="1737.4">112</text>
<text x="828.7" y="1737.4">113</text>
<text x="867.88" y="1737.4">114</text>
<text x="907.04" y="1737.4">115</text>
<text x="946.21" y="1737.4">116</text>
</g>
<text x="769.95" y="1760" font-size="18.85" text-anchor="middle">CDR3 amino acid position (IMGT)</text>
<text transform="translate(523.5 1333.2) rotate(-90)" font-size="19" text-anchor="middle">HLA amino acid position</text>
</g>
<g>
<text x="1267.2" y="933.5" class="t" font-size="35.7" font-style="italic" text-anchor="middle" fill="#000">HLA-DQA1</text>
<g shape-rendering="crispEdges">
<rect x="1131.15" y="949.9" width="39.15" height="21.31" fill="#6fc16c"/>
<rect x="1170.3" y="949.9" width="117.45" height="21.31" fill="#f4b06d"/>
<rect x="1287.75" y="949.9" width="78.3" height="21.31" fill="#6fc16c"/>
<rect x="1131.15" y="971.21" width="39.15" height="21.31" fill="#6fc16c"/>
<rect x="1170.3" y="971.21" width="117.45" height="21.31" fill="#f4b06d"/>
<rect x="1287.75" y="971.21" width="78.3" height="21.31" fill="#6fc16c"/>
<rect x="1131.15" y="992.52" width="39.15" height="21.31" fill="#6fc16c"/>
<rect x="1170.3" y="992.52" width="117.45" height="21.31" fill="#f4b06d"/>
<rect x="1287.75" y="992.52" width="78.3" height="21.31" fill="#6fc16c"/>
<rect x="1092" y="1013.82" width="156.6" height="21.31" fill="#6fc16c"/>
<rect x="1248.6" y="1013.82" width="117.45" height="21.31" fill="#f4b06d"/>
<rect x="1366.05" y="1013.82" width="39.15" height="21.31" fill="#6fc16c"/>
<rect x="1131.15" y="1035.13" width="39.15" height="21.31" fill="#6fc16c"/>
<rect x="1170.3" y="1035.13" width="78.3" height="21.31" fill="#f4b06d"/>
<rect x="1248.6" y="1035.13" width="156.6" height="21.31" fill="#6fc16c"/>
<rect x="1131.15" y="1056.44" width="39.15" height="21.31" fill="#6fc16c"/>
<rect x="1170.3" y="1056.44" width="78.3" height="21.31" fill="#f4b06d"/>
<rect x="1248.6" y="1056.44" width="39.15" height="21.31" fill="#6fc16c"/>
<rect x="1287.75" y="1056.44" width="39.15" height="21.31" fill="#f4b06d"/>
<rect x="1326.9" y="1056.44" width="78.3" height="21.31" fill="#6fc16c"/>
<rect x="1170.3" y="1077.75" width="39.15" height="21.31" fill="#6fc16c"/>
<rect x="1209.45" y="1077.75" width="39.15" height="21.31" fill="#f4b06d"/>
<rect x="1248.6" y="1077.75" width="117.45" height="21.31" fill="#6fc16c"/>
<rect x="1170.3" y="1099.06" width="195.75" height="21.31" fill="#6fc16c"/>
<rect x="1131.15" y="1120.37" width="39.15" height="21.31" fill="#6fc16c"/>
<rect x="1170.3" y="1120.37" width="117.45" height="21.31" fill="#f4b06d"/>
<rect x="1287.75" y="1120.37" width="78.3" height="21.31" fill="#6fc16c"/>
<rect x="1092" y="1141.67" width="78.3" height="21.31" fill="#f4b06d"/>
<rect x="1170.3" y="1141.67" width="117.45" height="21.31" fill="#fffd7e"/>
<rect x="1287.75" y="1141.67" width="117.45" height="21.31" fill="#f4b06d"/>
<rect x="1131.15" y="1162.98" width="39.15" height="21.31" fill="#6fc16c"/>
<rect x="1170.3" y="1162.98" width="117.45" height="21.31" fill="#f4b06d"/>
<rect x="1287.75" y="1162.98" width="78.3" height="21.31" fill="#6fc16c"/>
<rect x="1092" y="1184.29" width="78.3" height="21.31" fill="#6fc16c"/>
<rect x="1170.3" y="1184.29" width="78.3" height="21.31" fill="#fffd7e"/>
<rect x="1248.6" y="1184.29" width="39.15" height="21.31" fill="#f4b06d"/>
<rect x="1287.75" y="1184.29" width="39.15" height="21.31" fill="#6fc16c"/>
<rect x="1326.9" y="1184.29" width="39.15" height="21.31" fill="#f4b06d"/>
<rect x="1366.05" y="1184.29" width="39.15" height="21.31" fill="#6fc16c"/>
<rect x="1170.3" y="1205.6" width="39.15" height="21.31" fill="#6fc16c"/>
<rect x="1209.45" y="1205.6" width="39.15" height="21.31" fill="#f4b06d"/>
<rect x="1248.6" y="1205.6" width="117.45" height="21.31" fill="#6fc16c"/>
<rect x="1092" y="1226.91" width="78.3" height="21.31" fill="#6fc16c"/>
<rect x="1170.3" y="1226.91" width="117.45" height="21.31" fill="#fffd7e"/>
<rect x="1287.75" y="1226.91" width="78.3" height="21.31" fill="#f4b06d"/>
<rect x="1092" y="1248.22" width="78.3" height="21.31" fill="#6fc16c"/>
<rect x="1170.3" y="1248.22" width="78.3" height="21.31" fill="#fffd7e"/>
<rect x="1248.6" y="1248.22" width="39.15" height="21.31" fill="#f4b06d"/>
<rect x="1287.75" y="1248.22" width="39.15" height="21.31" fill="#6fc16c"/>
<rect x="1326.9" y="1248.22" width="39.15" height="21.31" fill="#f4b06d"/>
<rect x="1366.05" y="1248.22" width="39.15" height="21.31" fill="#6fc16c"/>
<rect x="1092" y="1269.53" width="156.6" height="21.31" fill="#6fc16c"/>
<rect x="1248.6" y="1269.53" width="39.15" height="21.31" fill="#f4b06d"/>
<rect x="1287.75" y="1269.53" width="39.15" height="21.31" fill="#6fc16c"/>
<rect x="1326.9" y="1269.53" width="39.15" height="21.31" fill="#f4b06d"/>
<rect x="1366.05" y="1269.53" width="39.15" height="21.31" fill="#6fc16c"/>
<rect x="1131.15" y="1290.83" width="39.15" height="21.31" fill="#6fc16c"/>
<rect x="1170.3" y="1290.83" width="117.45" height="21.31" fill="#f4b06d"/>
<rect x="1287.75" y="1290.83" width="78.3" height="21.31" fill="#6fc16c"/>
<rect x="1092" y="1312.14" width="78.3" height="21.31" fill="#6fc16c"/>
<rect x="1170.3" y="1312.14" width="78.3" height="21.31" fill="#fffd7e"/>
<rect x="1248.6" y="1312.14" width="39.15" height="21.31" fill="#f4b06d"/>
<rect x="1287.75" y="1312.14" width="117.45" height="21.31" fill="#6fc16c"/>
<rect x="1131.15" y="1333.45" width="39.15" height="21.31" fill="#6fc16c"/>
<rect x="1170.3" y="1333.45" width="117.45" height="21.31" fill="#f4b06d"/>
<rect x="1287.75" y="1333.45" width="78.3" height="21.31" fill="#6fc16c"/>
<rect x="1131.15" y="1354.76" width="39.15" height="21.31" fill="#6fc16c"/>
<rect x="1170.3" y="1354.76" width="117.45" height="21.31" fill="#f4b06d"/>
<rect x="1287.75" y="1354.76" width="78.3" height="21.31" fill="#6fc16c"/>
<rect x="1131.15" y="1376.07" width="39.15" height="21.31" fill="#6fc16c"/>
<rect x="1170.3" y="1376.07" width="117.45" height="21.31" fill="#f4b06d"/>
<rect x="1287.75" y="1376.07" width="78.3" height="21.31" fill="#6fc16c"/>
<rect x="1131.15" y="1397.38" width="39.15" height="21.31" fill="#6fc16c"/>
<rect x="1170.3" y="1397.38" width="39.15" height="21.31" fill="#fffd7e"/>
<rect x="1209.45" y="1397.38" width="156.6" height="21.31" fill="#f4b06d"/>
<rect x="1131.15" y="1418.68" width="78.3" height="21.31" fill="#6fc16c"/>
<rect x="1209.45" y="1418.68" width="39.15" height="21.31" fill="#f4b06d"/>
<rect x="1248.6" y="1418.68" width="117.45" height="21.31" fill="#6fc16c"/>
<rect x="1092" y="1439.99" width="78.3" height="21.31" fill="#6fc16c"/>
<rect x="1170.3" y="1439.99" width="78.3" height="21.31" fill="#fffd7e"/>
<rect x="1248.6" y="1439.99" width="39.15" height="21.31" fill="#f4b06d"/>
<rect x="1287.75" y="1439.99" width="117.45" height="21.31" fill="#6fc16c"/>
<rect x="1131.15" y="1461.3" width="39.15" height="21.31" fill="#6fc16c"/>
<rect x="1170.3" y="1461.3" width="117.45" height="21.31" fill="#f4b06d"/>
<rect x="1287.75" y="1461.3" width="78.3" height="21.31" fill="#6fc16c"/>
<rect x="1131.15" y="1482.61" width="78.3" height="21.31" fill="#6fc16c"/>
<rect x="1209.45" y="1482.61" width="39.15" height="21.31" fill="#f4b06d"/>
<rect x="1248.6" y="1482.61" width="117.45" height="21.31" fill="#6fc16c"/>
<rect x="1092" y="1503.92" width="39.15" height="21.31" fill="#6fc16c"/>
<rect x="1170.3" y="1503.92" width="117.45" height="21.31" fill="#f4b06d"/>
<rect x="1287.75" y="1503.92" width="78.3" height="21.31" fill="#6fc16c"/>
<rect x="1170.3" y="1525.22" width="195.75" height="21.31" fill="#6fc16c"/>
<rect x="1131.15" y="1546.53" width="78.3" height="21.31" fill="#6fc16c"/>
<rect x="1209.45" y="1546.53" width="39.15" height="21.31" fill="#f4b06d"/>
<rect x="1248.6" y="1546.53" width="117.45" height="21.31" fill="#6fc16c"/>
<rect x="1131.15" y="1567.84" width="78.3" height="21.31" fill="#6fc16c"/>
<rect x="1209.45" y="1567.84" width="39.15" height="21.31" fill="#f4b06d"/>
<rect x="1248.6" y="1567.84" width="117.45" height="21.31" fill="#6fc16c"/>
<rect x="1131.15" y="1589.15" width="78.3" height="21.31" fill="#6fc16c"/>
<rect x="1209.45" y="1589.15" width="39.15" height="21.31" fill="#f4b06d"/>
<rect x="1248.6" y="1589.15" width="117.45" height="21.31" fill="#6fc16c"/>
<rect x="1092" y="1610.46" width="78.3" height="21.31" fill="#6fc16c"/>
<rect x="1170.3" y="1610.46" width="78.3" height="21.31" fill="#fffd7e"/>
<rect x="1248.6" y="1610.46" width="117.45" height="21.31" fill="#f4b06d"/>
<rect x="1131.15" y="1631.77" width="39.15" height="21.31" fill="#6fc16c"/>
<rect x="1170.3" y="1631.77" width="78.3" height="21.31" fill="#f4b06d"/>
<rect x="1248.6" y="1631.77" width="156.6" height="21.31" fill="#6fc16c"/>
<rect x="1131.15" y="1653.07" width="39.15" height="21.31" fill="#6fc16c"/>
<rect x="1170.3" y="1653.07" width="195.75" height="21.31" fill="#f4b06d"/>
<rect x="1131.15" y="1674.38" width="39.15" height="21.31" fill="#6fc16c"/>
<rect x="1170.3" y="1674.38" width="78.3" height="21.31" fill="#f4b06d"/>
<rect x="1248.6" y="1674.38" width="156.6" height="21.31" fill="#6fc16c"/>
<rect x="1131.15" y="1695.69" width="39.15" height="21.31" fill="#6fc16c"/>
<rect x="1170.3" y="1695.69" width="117.45" height="21.31" fill="#f4b06d"/>
<rect x="1287.75" y="1695.69" width="78.3" height="21.31" fill="#6fc16c"/>
</g>
<path d="M1092 971.21H1483.5M1092 992.52H1483.5M1092 1013.82H1483.5M1092 1035.13H1483.5M1092 1056.44H1483.5M1092 1077.75H1483.5M1092 1099.06H1483.5M1092 1120.37H1483.5M1092 1141.67H1483.5M1092 1162.98H1483.5M1092 1184.29H1483.5M1092 1205.6H1483.5M1092 1226.91H1483.5M1092 1248.22H1483.5M1092 1269.53H1483.5M1092 1290.83H1483.5M1092 1312.14H1483.5M1092 1333.45H1483.5M1092 1354.76H1483.5M1092 1376.07H1483.5M1092 1397.38H1483.5M1092 1418.68H1483.5M1092 1439.99H1483.5M1092 1461.3H1483.5M1092 1482.61H1483.5M1092 1503.92H1483.5M1092 1525.22H1483.5M1092 1546.53H1483.5M1092 1567.84H1483.5M1092 1589.15H1483.5M1092 1610.46H1483.5M1092 1631.77H1483.5M1092 1653.07H1483.5M1092 1674.38H1483.5M1092 1695.69H1483.5" stroke="rgba(20,20,20,0.31)" stroke-width="1.5" fill="none"/>
<path d="M1131.15 949.9V1717M1170.3 949.9V1717M1209.45 949.9V1717M1248.6 949.9V1717M1287.75 949.9V1717M1326.9 949.9V1717M1366.05 949.9V1717M1405.2 949.9V1717M1444.35 949.9V1717" stroke="rgba(20,20,20,0.30)" stroke-width="1.4" fill="none"/>
<rect x="1092" y="949.9" width="391.5" height="767.1" fill="none" stroke="rgba(30,30,30,0.13)" stroke-width="1.6"/>
<path d="M1086.7 960.55H1092M1086.7 981.86H1092M1086.7 1003.17H1092M1086.7 1024.48H1092M1086.7 1045.79H1092M1086.7 1067.1H1092M1086.7 1088.4H1092M1086.7 1109.71H1092M1086.7 1131.02H1092M1086.7 1152.33H1092M1086.7 1173.64H1092M1086.7 1194.95H1092M1086.7 1216.25H1092M1086.7 1237.56H1092M1086.7 1258.87H1092M1086.7 1280.18H1092M1086.7 1301.49H1092M1086.7 1322.8H1092M1086.7 1344.1H1092M1086.7 1365.41H1092M1086.7 1386.72H1092M1086.7 1408.03H1092M1086.7 1429.34H1092M1086.7 1450.65H1092M1086.7 1471.95H1092M1086.7 1493.26H1092M1086.7 1514.57H1092M1086.7 1535.88H1092M1086.7 1557.19H1092M1086.7 1578.5H1092M1086.7 1599.8H1092M1086.7 1621.11H1092M1086.7 1642.42H1092M1086.7 1663.73H1092M1086.7 1685.04H1092M1086.7 1706.35H1092M1111.58 1717V1722.3M1150.72 1717V1722.3M1189.88 1717V1722.3M1229.03 1717V1722.3M1268.17 1717V1722.3M1307.33 1717V1722.3M1346.47 1717V1722.3M1385.62 1717V1722.3M1424.78 1717V1722.3M1463.92 1717V1722.3" stroke="#262626" stroke-width="1.75" fill="none"/>
<g font-size="17.0" text-anchor="end">
<text x="1083.05" y="966.74">-16</text>
<text x="1083.05" y="988.05">11</text>
<text x="1083.05" y="1009.36">18</text>
<text x="1083.05" y="1030.67">25</text>
<text x="1083.05" y="1051.97">26</text>
<text x="1083.05" y="1073.28">34</text>
<text x="1083.05" y="1094.59">40</text>
<text x="1083.05" y="1115.9">41</text>
<text x="1083.05" y="1137.21">45</text>
<text x="1083.05" y="1158.52">47</text>
<text x="1083.05" y="1179.82">48</text>
<text x="1083.05" y="1201.13">50</text>
<text x="1083.05" y="1222.44">51</text>
<text x="1083.05" y="1243.75">52</text>
<text x="1083.05" y="1265.06">53</text>
<text x="1083.05" y="1286.37">54</text>
<text x="1083.05" y="1307.67">55</text>
<text x="1083.05" y="1328.98">56</text>
<text x="1083.05" y="1350.29">61</text>
<text x="1083.05" y="1371.6">64</text>
<text x="1083.05" y="1392.91">66</text>
<text x="1083.05" y="1414.22">69</text>
<text x="1083.05" y="1435.52">75</text>
<text x="1083.05" y="1456.83">76</text>
<text x="1083.05" y="1478.14">80</text>
<text x="1083.05" y="1499.45">107</text>
<text x="1083.05" y="1520.76">129</text>
<text x="1083.05" y="1542.07">130</text>
<text x="1083.05" y="1563.37">156</text>
<text x="1083.05" y="1584.68">161</text>
<text x="1083.05" y="1605.99">163</text>
<text x="1083.05" y="1627.3">175</text>
<text x="1083.05" y="1648.61">187</text>
<text x="1083.05" y="1669.92">207</text>
<text x="1083.05" y="1691.22">215</text>
<text x="1083.05" y="1712.53">218</text>
</g>
<g font-size="17.1" text-anchor="middle">
<text x="1111.58" y="1738.4">107</text>
<text x="1150.72" y="1738.4">108</text>
<text x="1189.88" y="1738.4">109</text>
<text x="1229.03" y="1738.4">110</text>
<text x="1268.17" y="1738.4">111</text>
<text x="1307.33" y="1738.4">112</text>
<text x="1346.47" y="1738.4">113</text>
<text x="1385.62" y="1738.4">114</text>
<text x="1424.78" y="1738.4">115</text>
<text x="1463.92" y="1738.4">116</text>
</g>
<text x="1287.75" y="1761" font-size="18.85" text-anchor="middle">CDR3 amino acid position (IMGT)</text>
<text transform="translate(1041.5 1334.15) rotate(-90)" font-size="19" text-anchor="middle">HLA amino acid position</text>
</g>
<g>
<text x="1796.5" y="933.5" class="t" font-size="35.7" font-style="italic" text-anchor="middle" fill="#000">HLA-DQB1</text>
<g shape-rendering="crispEdges">
<rect x="1607" y="949.7" width="156.56" height="15.34" fill="#6fc16c"/>
<rect x="1763.56" y="949.7" width="78.28" height="15.34" fill="#f4b06d"/>
<rect x="1841.84" y="949.7" width="78.28" height="15.34" fill="#6fc16c"/>
<rect x="1646.14" y="965.04" width="39.14" height="15.34" fill="#6fc16c"/>
<rect x="1685.28" y="965.04" width="117.42" height="15.34" fill="#f4b06d"/>
<rect x="1802.7" y="965.04" width="78.28" height="15.34" fill="#6fc16c"/>
<rect x="1646.14" y="980.39" width="117.42" height="15.34" fill="#6fc16c"/>
<rect x="1763.56" y="980.39" width="39.14" height="15.34" fill="#f4b06d"/>
<rect x="1802.7" y="980.39" width="117.42" height="15.34" fill="#6fc16c"/>
<rect x="1646.14" y="995.73" width="78.28" height="15.34" fill="#f4b06d"/>
<rect x="1724.42" y="995.73" width="156.56" height="15.34" fill="#6fc16c"/>
<rect x="1607" y="1011.08" width="156.56" height="15.34" fill="#6fc16c"/>
<rect x="1763.56" y="1011.08" width="78.28" height="15.34" fill="#f4b06d"/>
<rect x="1841.84" y="1011.08" width="78.28" height="15.34" fill="#6fc16c"/>
<rect x="1646.14" y="1026.42" width="39.14" height="15.34" fill="#6fc16c"/>
<rect x="1685.28" y="1026.42" width="117.42" height="15.34" fill="#f4b06d"/>
<rect x="1802.7" y="1026.42" width="78.28" height="15.34" fill="#6fc16c"/>
<rect x="1607" y="1041.76" width="78.28" height="15.34" fill="#6fc16c"/>
<rect x="1685.28" y="1041.76" width="156.56" height="15.34" fill="#fffd7e"/>
<rect x="1841.84" y="1041.76" width="39.14" height="15.34" fill="#f4b06d"/>
<rect x="1880.98" y="1041.76" width="39.14" height="15.34" fill="#6fc16c"/>
<rect x="1646.14" y="1057.11" width="39.14" height="15.34" fill="#6fc16c"/>
<rect x="1685.28" y="1057.11" width="117.42" height="15.34" fill="#f4b06d"/>
<rect x="1802.7" y="1057.11" width="78.28" height="15.34" fill="#6fc16c"/>
<rect x="1646.14" y="1072.45" width="234.84" height="15.34" fill="#f4b06d"/>
<rect x="1880.98" y="1072.45" width="39.14" height="15.34" fill="#6fc16c"/>
<rect x="1685.28" y="1087.8" width="195.7" height="15.34" fill="#6fc16c"/>
<rect x="1607" y="1103.14" width="156.56" height="15.34" fill="#6fc16c"/>
<rect x="1763.56" y="1103.14" width="78.28" height="15.34" fill="#f4b06d"/>
<rect x="1841.84" y="1103.14" width="78.28" height="15.34" fill="#6fc16c"/>
<rect x="1646.14" y="1118.48" width="39.14" height="15.34" fill="#6fc16c"/>
<rect x="1685.28" y="1118.48" width="39.14" height="15.34" fill="#f4b06d"/>
<rect x="1724.42" y="1118.48" width="39.14" height="15.34" fill="#6fc16c"/>
<rect x="1763.56" y="1118.48" width="78.28" height="15.34" fill="#f4b06d"/>
<rect x="1841.84" y="1118.48" width="78.28" height="15.34" fill="#6fc16c"/>
<rect x="1646.14" y="1133.83" width="78.28" height="15.34" fill="#f4b06d"/>
<rect x="1724.42" y="1133.83" width="156.56" height="15.34" fill="#6fc16c"/>
<rect x="1607" y="1149.17" width="39.14" height="15.34" fill="#6fc16c"/>
<rect x="1646.14" y="1149.17" width="39.14" height="15.34" fill="#f4b06d"/>
<rect x="1685.28" y="1149.17" width="39.14" height="15.34" fill="#fffd7e"/>
<rect x="1724.42" y="1149.17" width="156.56" height="15.34" fill="#f4b06d"/>
<rect x="1880.98" y="1149.17" width="39.14" height="15.34" fill="#6fc16c"/>
<rect x="1646.14" y="1164.52" width="78.28" height="15.34" fill="#f4b06d"/>
<rect x="1724.42" y="1164.52" width="156.56" height="15.34" fill="#6fc16c"/>
<rect x="1607" y="1179.86" width="39.14" height="15.34" fill="#6fc16c"/>
<rect x="1646.14" y="1179.86" width="234.84" height="15.34" fill="#f4b06d"/>
<rect x="1685.28" y="1195.2" width="195.7" height="15.34" fill="#6fc16c"/>
<rect x="1646.14" y="1210.55" width="78.28" height="15.34" fill="#f4b06d"/>
<rect x="1724.42" y="1210.55" width="156.56" height="15.34" fill="#6fc16c"/>
<rect x="1646.14" y="1225.89" width="78.28" height="15.34" fill="#f4b06d"/>
<rect x="1724.42" y="1225.89" width="156.56" height="15.34" fill="#6fc16c"/>
<rect x="1646.14" y="1241.24" width="78.28" height="15.34" fill="#f4b06d"/>
<rect x="1724.42" y="1241.24" width="156.56" height="15.34" fill="#6fc16c"/>
<rect x="1646.14" y="1256.58" width="39.14" height="15.34" fill="#6fc16c"/>
<rect x="1685.28" y="1256.58" width="117.42" height="15.34" fill="#f4b06d"/>
<rect x="1802.7" y="1256.58" width="78.28" height="15.34" fill="#6fc16c"/>
<rect x="1646.14" y="1271.92" width="39.14" height="15.34" fill="#f4b06d"/>
<rect x="1685.28" y="1271.92" width="39.14" height="15.34" fill="#fffd7e"/>
<rect x="1724.42" y="1271.92" width="156.56" height="15.34" fill="#f4b06d"/>
<rect x="1880.98" y="1271.92" width="39.14" height="15.34" fill="#6fc16c"/>
<rect x="1646.14" y="1287.27" width="156.56" height="15.34" fill="#6fc16c"/>
<rect x="1802.7" y="1287.27" width="39.14" height="15.34" fill="#f4b06d"/>
<rect x="1841.84" y="1287.27" width="78.28" height="15.34" fill="#6fc16c"/>
<rect x="1607" y="1302.61" width="39.14" height="15.34" fill="#6fc16c"/>
<rect x="1646.14" y="1302.61" width="39.14" height="15.34" fill="#f4b06d"/>
<rect x="1685.28" y="1302.61" width="39.14" height="15.34" fill="#fffd7e"/>
<rect x="1724.42" y="1302.61" width="78.28" height="15.34" fill="#f4b06d"/>
<rect x="1802.7" y="1302.61" width="39.14" height="15.34" fill="#fffd7e"/>
<rect x="1841.84" y="1302.61" width="39.14" height="15.34" fill="#f4b06d"/>
<rect x="1880.98" y="1302.61" width="39.14" height="15.34" fill="#6fc16c"/>
<rect x="1646.14" y="1317.96" width="39.14" height="15.34" fill="#6fc16c"/>
<rect x="1685.28" y="1317.96" width="39.14" height="15.34" fill="#f4b06d"/>
<rect x="1724.42" y="1317.96" width="195.7" height="15.34" fill="#6fc16c"/>
<rect x="1646.14" y="1333.3" width="39.14" height="15.34" fill="#6fc16c"/>
<rect x="1685.28" y="1333.3" width="39.14" height="15.34" fill="#f4b06d"/>
<rect x="1724.42" y="1333.3" width="195.7" height="15.34" fill="#6fc16c"/>
<rect x="1646.14" y="1348.64" width="39.14" height="15.34" fill="#f4b06d"/>
<rect x="1685.28" y="1348.64" width="39.14" height="15.34" fill="#fffd7e"/>
<rect x="1724.42" y="1348.64" width="117.42" height="15.34" fill="#f4b06d"/>
<rect x="1841.84" y="1348.64" width="78.28" height="15.34" fill="#6fc16c"/>
<rect x="1607" y="1363.99" width="39.14" height="15.34" fill="#6fc16c"/>
<rect x="1646.14" y="1363.99" width="39.14" height="15.34" fill="#fffd7e"/>
<rect x="1685.28" y="1363.99" width="39.14" height="15.34" fill="#2d58a5"/>
<rect x="1724.42" y="1363.99" width="78.28" height="15.34" fill="#fffd7e"/>
<rect x="1802.7" y="1363.99" width="39.14" height="15.34" fill="#2d58a5"/>
<rect x="1841.84" y="1363.99" width="39.14" height="15.34" fill="#fffd7e"/>
<rect x="1880.98" y="1363.99" width="39.14" height="15.34" fill="#f4b06d"/>
<rect x="1607" y="1379.33" width="39.14" height="15.34" fill="#6fc16c"/>
<rect x="1646.14" y="1379.33" width="39.14" height="15.34" fill="#f4b06d"/>
<rect x="1685.28" y="1379.33" width="39.14" height="15.34" fill="#fffd7e"/>
<rect x="1724.42" y="1379.33" width="78.28" height="15.34" fill="#f4b06d"/>
<rect x="1802.7" y="1379.33" width="39.14" height="15.34" fill="#fffd7e"/>
<rect x="1841.84" y="1379.33" width="39.14" height="15.34" fill="#f4b06d"/>
<rect x="1880.98" y="1379.33" width="39.14" height="15.34" fill="#6fc16c"/>
<rect x="1607" y="1394.68" width="78.28" height="15.34" fill="#6fc16c"/>
<rect x="1685.28" y="1394.68" width="195.7" height="15.34" fill="#f4b06d"/>
<rect x="1880.98" y="1394.68" width="39.14" height="15.34" fill="#6fc16c"/>
<rect x="1607" y="1410.02" width="39.14" height="15.34" fill="#6fc16c"/>
<rect x="1646.14" y="1410.02" width="234.84" height="15.34" fill="#f4b06d"/>
<rect x="1880.98" y="1410.02" width="39.14" height="15.34" fill="#6fc16c"/>
<rect x="1646.14" y="1425.36" width="39.14" height="15.34" fill="#6fc16c"/>
<rect x="1685.28" y="1425.36" width="117.42" height="15.34" fill="#f4b06d"/>
<rect x="1802.7" y="1425.36" width="78.28" height="15.34" fill="#6fc16c"/>
<rect x="1646.14" y="1440.71" width="39.14" height="15.34" fill="#6fc16c"/>
<rect x="1685.28" y="1440.71" width="117.42" height="15.34" fill="#f4b06d"/>
<rect x="1802.7" y="1440.71" width="78.28" height="15.34" fill="#6fc16c"/>
<rect x="1607" y="1456.05" width="78.28" height="15.34" fill="#6fc16c"/>
<rect x="1685.28" y="1456.05" width="117.42" height="15.34" fill="#f4b06d"/>
<rect x="1802.7" y="1456.05" width="78.28" height="15.34" fill="#6fc16c"/>
<rect x="1607" y="1471.4" width="39.14" height="15.34" fill="#6fc16c"/>
<rect x="1646.14" y="1471.4" width="39.14" height="15.34" fill="#f4b06d"/>
<rect x="1685.28" y="1471.4" width="156.56" height="15.34" fill="#fffd7e"/>
<rect x="1841.84" y="1471.4" width="39.14" height="15.34" fill="#f4b06d"/>
<rect x="1880.98" y="1471.4" width="39.14" height="15.34" fill="#6fc16c"/>
<rect x="1646.14" y="1486.74" width="39.14" height="15.34" fill="#6fc16c"/>
<rect x="1685.28" y="1486.74" width="117.42" height="15.34" fill="#f4b06d"/>
<rect x="1802.7" y="1486.74" width="78.28" height="15.34" fill="#6fc16c"/>
<rect x="1646.14" y="1502.08" width="39.14" height="15.34" fill="#6fc16c"/>
<rect x="1685.28" y="1502.08" width="117.42" height="15.34" fill="#f4b06d"/>
<rect x="1802.7" y="1502.08" width="78.28" height="15.34" fill="#6fc16c"/>
<rect x="1607" y="1517.43" width="156.56" height="15.34" fill="#6fc16c"/>
<rect x="1763.56" y="1517.43" width="78.28" height="15.34" fill="#f4b06d"/>
<rect x="1841.84" y="1517.43" width="78.28" height="15.34" fill="#6fc16c"/>
<rect x="1607" y="1532.77" width="78.28" height="15.34" fill="#6fc16c"/>
<rect x="1685.28" y="1532.77" width="156.56" height="15.34" fill="#fffd7e"/>
<rect x="1841.84" y="1532.77" width="39.14" height="15.34" fill="#f4b06d"/>
<rect x="1880.98" y="1532.77" width="39.14" height="15.34" fill="#6fc16c"/>
<rect x="1646.14" y="1548.12" width="78.28" height="15.34" fill="#6fc16c"/>
<rect x="1646.14" y="1563.46" width="39.14" height="15.34" fill="#6fc16c"/>
<rect x="1763.56" y="1563.46" width="39.14" height="15.34" fill="#6fc16c"/>
<rect x="1841.84" y="1563.46" width="39.14" height="15.34" fill="#6fc16c"/>
<rect x="1607" y="1578.8" width="156.56" height="15.34" fill="#6fc16c"/>
<rect x="1763.56" y="1578.8" width="39.14" height="15.34" fill="#f4b06d"/>
<rect x="1802.7" y="1578.8" width="78.28" height="15.34" fill="#6fc16c"/>
<rect x="1646.14" y="1594.15" width="39.14" height="15.34" fill="#6fc16c"/>
<rect x="1685.28" y="1594.15" width="78.28" height="15.34" fill="#f4b06d"/>
<rect x="1763.56" y="1594.15" width="156.56" height="15.34" fill="#6fc16c"/>
<rect x="1685.28" y="1609.49" width="195.7" height="15.34" fill="#6fc16c"/>
<rect x="1646.14" y="1624.84" width="39.14" height="15.34" fill="#6fc16c"/>
<rect x="1685.28" y="1624.84" width="78.28" height="15.34" fill="#f4b06d"/>
<rect x="1763.56" y="1624.84" width="156.56" height="15.34" fill="#6fc16c"/>
<rect x="1646.14" y="1640.18" width="78.28" height="15.34" fill="#6fc16c"/>
<rect x="1724.42" y="1640.18" width="39.14" height="15.34" fill="#f4b06d"/>
<rect x="1763.56" y="1640.18" width="78.28" height="15.34" fill="#6fc16c"/>
<rect x="1880.98" y="1640.18" width="39.14" height="15.34" fill="#6fc16c"/>
<rect x="1646.14" y="1655.52" width="39.14" height="15.34" fill="#6fc16c"/>
<rect x="1685.28" y="1655.52" width="117.42" height="15.34" fill="#f4b06d"/>
<rect x="1802.7" y="1655.52" width="78.28" height="15.34" fill="#6fc16c"/>
<rect x="1646.14" y="1670.87" width="39.14" height="15.34" fill="#6fc16c"/>
<rect x="1685.28" y="1670.87" width="117.42" height="15.34" fill="#f4b06d"/>
<rect x="1802.7" y="1670.87" width="78.28" height="15.34" fill="#6fc16c"/>
<rect x="1646.14" y="1686.21" width="39.14" height="15.34" fill="#6fc16c"/>
<rect x="1685.28" y="1686.21" width="117.42" height="15.34" fill="#f4b06d"/>
<rect x="1802.7" y="1686.21" width="78.28" height="15.34" fill="#6fc16c"/>
<rect x="1607" y="1701.56" width="156.56" height="15.34" fill="#6fc16c"/>
<rect x="1763.56" y="1701.56" width="78.28" height="15.34" fill="#f4b06d"/>
<rect x="1841.84" y="1701.56" width="78.28" height="15.34" fill="#6fc16c"/>
</g>
<path d="M1607 965.04H1998.4M1607 980.39H1998.4M1607 995.73H1998.4M1607 1011.08H1998.4M1607 1026.42H1998.4M1607 1041.76H1998.4M1607 1057.11H1998.4M1607 1072.45H1998.4M1607 1087.8H1998.4M1607 1103.14H1998.4M1607 1118.48H1998.4M1607 1133.83H1998.4M1607 1149.17H1998.4M1607 1164.52H1998.4M1607 1179.86H1998.4M1607 1195.2H1998.4M1607 1210.55H1998.4M1607 1225.89H1998.4M1607 1241.24H1998.4M1607 1256.58H1998.4M1607 1271.92H1998.4M1607 1287.27H1998.4M1607 1302.61H1998.4M1607 1317.96H1998.4M1607 1333.3H1998.4M1607 1348.64H1998.4M1607 1363.99H1998.4M1607 1379.33H1998.4M1607 1394.68H1998.4M1607 1410.02H1998.4M1607 1425.36H1998.4M1607 1440.71H1998.4M1607 1456.05H1998.4M1607 1471.4H1998.4M1607 1486.74H1998.4M1607 1502.08H1998.4M1607 1517.43H1998.4M1607 1532.77H1998.4M1607 1548.12H1998.4M1607 1563.46H1998.4M1607 1578.8H1998.4M1607 1594.15H1998.4M1607 1609.49H1998.4M1607 1624.84H1998.4M1607 1640.18H1998.4M1607 1655.52H1998.4M1607 1670.87H1998.4M1607 1686.21H1998.4M1607 1701.56H1998.4" stroke="rgba(20,20,20,0.31)" stroke-width="1.5" fill="none"/>
<path d="M1646.14 949.7V1716.9M1685.28 949.7V1716.9M1724.42 949.7V1716.9M1763.56 949.7V1716.9M1802.7 949.7V1716.9M1841.84 949.7V1716.9M1880.98 949.7V1716.9M1920.12 949.7V1716.9M1959.26 949.7V1716.9" stroke="rgba(20,20,20,0.30)" stroke-width="1.4" fill="none"/>
<rect x="1607" y="949.7" width="391.4" height="767.2" fill="none" stroke="rgba(30,30,30,0.13)" stroke-width="1.6"/>
<path d="M1601.7 957.37H1607M1601.7 972.72H1607M1601.7 988.06H1607M1601.7 1003.4H1607M1601.7 1018.75H1607M1601.7 1034.09H1607M1601.7 1049.44H1607M1601.7 1064.78H1607M1601.7 1080.12H1607M1601.7 1095.47H1607M1601.7 1110.81H1607M1601.7 1126.16H1607M1601.7 1141.5H1607M1601.7 1156.84H1607M1601.7 1172.19H1607M1601.7 1187.53H1607M1601.7 1202.88H1607M1601.7 1218.22H1607M1601.7 1233.56H1607M1601.7 1248.91H1607M1601.7 1264.25H1607M1601.7 1279.6H1607M1601.7 1294.94H1607M1601.7 1310.28H1607M1601.7 1325.63H1607M1601.7 1340.97H1607M1601.7 1356.32H1607M1601.7 1371.66H1607M1601.7 1387H1607M1601.7 1402.35H1607M1601.7 1417.69H1607M1601.7 1433.04H1607M1601.7 1448.38H1607M1601.7 1463.72H1607M1601.7 1479.07H1607M1601.7 1494.41H1607M1601.7 1509.76H1607M1601.7 1525.1H1607M1601.7 1540.44H1607M1601.7 1555.79H1607M1601.7 1571.13H1607M1601.7 1586.48H1607M1601.7 1601.82H1607M1601.7 1617.16H1607M1601.7 1632.51H1607M1601.7 1647.85H1607M1601.7 1663.2H1607M1601.7 1678.54H1607M1601.7 1693.88H1607M1601.7 1709.23H1607M1626.57 1716.9V1722.2M1665.71 1716.9V1722.2M1704.85 1716.9V1722.2M1743.99 1716.9V1722.2M1783.13 1716.9V1722.2M1822.27 1716.9V1722.2M1861.41 1716.9V1722.2M1900.55 1716.9V1722.2M1939.69 1716.9V1722.2M1978.83 1716.9V1722.2" stroke="#262626" stroke-width="1.75" fill="none"/>
<g font-size="17.0" text-anchor="end">
<text x="1598.05" y="963.56">-27</text>
<text x="1598.05" y="978.9">-21</text>
<text x="1598.05" y="994.25">-18</text>
<text x="1598.05" y="1009.59">-10</text>
<text x="1598.05" y="1024.93">-9</text>
<text x="1598.05" y="1040.28">-6</text>
<text x="1598.05" y="1055.62">-5</text>
<text x="1598.05" y="1070.97">-4</text>
<text x="1598.05" y="1086.31">9</text>
<text x="1598.05" y="1101.65">13</text>
<text x="1598.05" y="1117">14</text>
<text x="1598.05" y="1132.34">26</text>
<text x="1598.05" y="1147.69">28</text>
<text x="1598.05" y="1163.03">30</text>
<text x="1598.05" y="1178.37">37</text>
<text x="1598.05" y="1193.72">38</text>
<text x="1598.05" y="1209.06">45</text>
<text x="1598.05" y="1224.41">46</text>
<text x="1598.05" y="1239.75">47</text>
<text x="1598.05" y="1255.09">52</text>
<text x="1598.05" y="1270.44">53</text>
<text x="1598.05" y="1285.78">55</text>
<text x="1598.05" y="1301.13">56</text>
<text x="1598.05" y="1316.47">57</text>
<text x="1598.05" y="1331.81">66</text>
<text x="1598.05" y="1347.16">67</text>
<text x="1598.05" y="1362.5">70</text>
<text x="1598.05" y="1377.85">71</text>
<text x="1598.05" y="1393.19">74</text>
<text x="1598.05" y="1408.53">75</text>
<text x="1598.05" y="1423.88">77</text>
<text x="1598.05" y="1439.22">84</text>
<text x="1598.05" y="1454.57">85</text>
<text x="1598.05" y="1469.91">86</text>
<text x="1598.05" y="1485.25">87</text>
<text x="1598.05" y="1500.6">89</text>
<text x="1598.05" y="1515.94">90</text>
<text x="1598.05" y="1531.29">116</text>
<text x="1598.05" y="1546.63">125</text>
<text x="1598.05" y="1561.97">126</text>
<text x="1598.05" y="1577.32">130</text>
<text x="1598.05" y="1592.66">135</text>
<text x="1598.05" y="1608.01">140</text>
<text x="1598.05" y="1623.35">167</text>
<text x="1598.05" y="1638.69">182</text>
<text x="1598.05" y="1654.04">185</text>
<text x="1598.05" y="1669.38">203</text>
<text x="1598.05" y="1684.73">220</text>
<text x="1598.05" y="1700.07">221</text>
<text x="1598.05" y="1715.41">224</text>
</g>
<g font-size="17.1" text-anchor="middle">
<text x="1626.57" y="1738.3">107</text>
<text x="1665.71" y="1738.3">108</text>
<text x="1704.85" y="1738.3">109</text>
<text x="1743.99" y="1738.3">110</text>
<text x="1783.13" y="1738.3">111</text>
<text x="1822.27" y="1738.3">112</text>
<text x="1861.41" y="1738.3">113</text>
<text x="1900.55" y="1738.3">114</text>
<text x="1939.69" y="1738.3">115</text>
<text x="1978.83" y="1738.3">116</text>
</g>
<text x="1802.7" y="1760.9" font-size="18.85" text-anchor="middle">CDR3 amino acid position (IMGT)</text>
<text transform="translate(1556 1334) rotate(-90)" font-size="19" text-anchor="middle">HLA amino acid position</text>
</g>
<g>
<text x="1546.5" y="310.5" font-size="23" text-anchor="middle" fill="#000">Variance</text>
<text x="1546.5" y="337.9" font-size="23" text-anchor="middle" fill="#000">explained</text>
<rect x="1509.3" y="352.4" width="29.7" height="29.75" fill="#fff"/>
<text x="1542.6" y="374" font-size="17">Not sig.</text>
<rect x="1509.3" y="382.1" width="29.7" height="29.75" fill="#6fc16c"/>
<text x="1542.6" y="403.7" font-size="17">&lt; 0.02</text>
<rect x="1509.3" y="411.8" width="29.7" height="29.75" fill="#f4b06d"/>
<text x="1542.6" y="433.4" font-size="17">&lt; 0.04</text>
<rect x="1509.3" y="441.5" width="29.7" height="29.75" fill="#fffd7e"/>
<text x="1542.6" y="463.1" font-size="17">&lt; 0.06</text>
<rect x="1509.3" y="471.2" width="29.7" height="29.75" fill="#2d58a5"/>
<text x="1542.6" y="492.8" font-size="17">&lt; 0.08</text>
<rect x="1509.3" y="500.9" width="29.7" height="29.75" fill="#ee2f6b"/>
<text x="1542.6" y="522.5" font-size="17">&gt;= 0.08</text>
<path d="M1509.3 382.1V352.4H1539V382.1" fill="none" stroke="rgba(0,0,0,0.27)" stroke-width="1.2"/>
</g>
<g>
<text x="2064" y="1215.6" font-size="23" text-anchor="middle" fill="#000">Variance</text>
<text x="2064" y="1243" font-size="23" text-anchor="middle" fill="#000">explained</text>
<rect x="2027.7" y="1254.9" width="29.7" height="29.75" fill="#fff"/>
<text x="2061" y="1277.3" font-size="17">Not sig.</text>
<rect x="2027.7" y="1284.6" width="29.7" height="29.75" fill="#6fc16c"/>
<text x="2061" y="1307" font-size="17">&lt; 0.02</text>
<rect x="2027.7" y="1314.3" width="29.7" height="29.75" fill="#f4b06d"/>
<text x="2061" y="1336.7" font-size="17">&lt; 0.04</text>
<rect x="2027.7" y="1344" width="29.7" height="29.75" fill="#fffd7e"/>
<text x="2061" y="1366.4" font-size="17">&lt; 0.06</text>
<rect x="2027.7" y="1373.7" width="29.7" height="29.75" fill="#2d58a5"/>
<text x="2061" y="1396.1" font-size="17">&lt; 0.08</text>
<rect x="2027.7" y="1403.4" width="29.7" height="29.75" fill="#ee2f6b"/>
<text x="2061" y="1425.8" font-size="17">&gt;= 0.08</text>
<path d="M2027.7 1284.6V1254.9H2057.4V1284.6" fill="none" stroke="rgba(0,0,0,0.27)" stroke-width="1.2"/>
</g>
</svg>
</body></html>
